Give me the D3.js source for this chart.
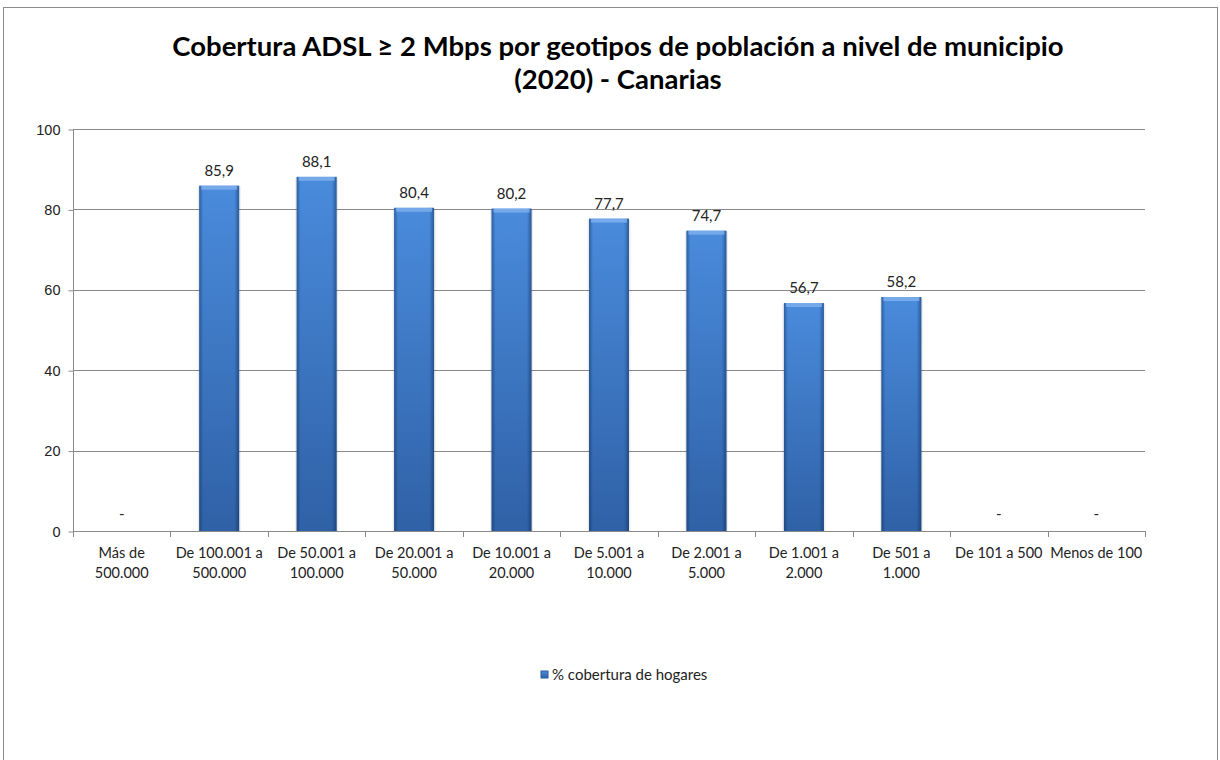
<!DOCTYPE html>
<html>
<head>
<meta charset="utf-8">
<script src="https://cdn.jsdelivr.net/npm/d3@7"></script>
<style>
  body { margin: 0; background: #fff; }
  svg { display: block; font-family: Lato, "Open Sans", sans-serif; }
</style>
</head>
<body>
<svg id="chart" width="1220" height="760"></svg>
<script>
const categories = [
  ['Más de', '500.000'],
  ['De 100.001 a', '500.000'],
  ['De 50.001 a', '100.000'],
  ['De 20.001 a', '50.000'],
  ['De 10.001 a', '20.000'],
  ['De 5.001 a', '10.000'],
  ['De 2.001 a', '5.000'],
  ['De 1.001 a', '2.000'],
  ['De 501 a', '1.000'],
  ['De 101 a 500'],
  ['Menos de 100']
]
const coverage = [null, 85.9, 88.1, 80.4, 80.2, 77.7, 74.7, 56.7, 58.2, null, null]
const yTicks = [0, 20, 40, 60, 80, 100]
const titleLines = ['Cobertura ADSL ≥ 2 Mbps por geotipos de población a nivel de municipio', '(2020) - Canarias']
const seriesName = '% cobertura de hogares'

const svg = d3.select('#chart')
const plotLeft = 73, plotRight = 1145, plotTop = 129, plotBottom = 531

// outer frame
svg.append('rect')
  .attr('x', 3.5).attr('y', 7.5).attr('width', 1214).attr('height', 770)
  .attr('fill', 'none').attr('stroke', '#8c8c8c').attr('stroke-width', 1)

const x = d3.scaleBand().domain(d3.range(categories.length)).range([plotLeft, plotRight])
  .paddingInner(0.59).paddingOuter(0.295)
const step = (plotRight - plotLeft) / categories.length
const y = d3.scaleLinear().domain([0, 100]).range([plotBottom, plotTop])

const defs = svg.append('defs')
const vg = defs.append('linearGradient').attr('id', 'vgrad')
  .attr('x1', 0).attr('y1', 0).attr('x2', 0).attr('y2', 1)
vg.append('stop').attr('offset', '0%').attr('stop-color', '#4a8bdc')
vg.append('stop').attr('offset', '100%').attr('stop-color', '#2f61a6')
const hg = defs.append('linearGradient').attr('id', 'hgrad')
  .attr('x1', 0).attr('y1', 0).attr('x2', 1).attr('y2', 0)
hg.append('stop').attr('offset', '0%').attr('stop-color', '#0b2a55').attr('stop-opacity', 0.45)
hg.append('stop').attr('offset', '10%').attr('stop-color', '#0b2a55').attr('stop-opacity', 0)
hg.append('stop').attr('offset', '88%').attr('stop-color', '#0b2a55').attr('stop-opacity', 0)
hg.append('stop').attr('offset', '100%').attr('stop-color', '#0b2a55').attr('stop-opacity', 0.5)

// gridlines
svg.append('g').selectAll('line').data(yTicks.filter(d => d > 0)).join('line')
  .attr('x1', plotLeft).attr('x2', plotRight)
  .attr('y1', d => Math.round(y(d)) + 0.5).attr('y2', d => Math.round(y(d)) + 0.5)
  .attr('stroke', '#8a8a8a')

// y axis
const yAxis = svg.append('g').attr('transform', `translate(${plotLeft + 0.5},0.5)`)
  .call(d3.axisLeft(y).tickValues(yTicks).tickSize(5).tickPadding(8).tickFormat(d3.format('d')))
yAxis.select('.domain').attr('stroke', '#8a8a8a').attr('d', `M0,${plotTop}V${plotBottom}`)
yAxis.selectAll('.tick line').attr('stroke', '#8a8a8a')
yAxis.selectAll('text').attr('font-size', 14.5).attr('fill', '#222')

// bars, with a faint shadow
const bars = svg.append('g').selectAll('g').data(coverage.map((v, i) => ({ v, i })).filter(d => d.v != null)).join('g')
bars.append('rect')
  .attr('x', d => x(d.i) - 1.5).attr('width', x.bandwidth() + 3)
  .attr('y', d => y(d.v) + 1).attr('height', d => y(0) - y(d.v) - 1)
  .attr('fill', '#000').attr('opacity', 0.08)
bars.append('rect')
  .attr('x', d => x(d.i)).attr('width', x.bandwidth())
  .attr('y', d => y(d.v)).attr('height', d => y(0) - y(d.v))
  .attr('fill', 'url(#vgrad)')
bars.append('rect')
  .attr('x', d => x(d.i)).attr('width', x.bandwidth())
  .attr('y', d => y(d.v)).attr('height', d => y(0) - y(d.v))
  .attr('fill', 'url(#hgrad)')
bars.append('rect')
  .attr('x', d => x(d.i) + 2).attr('width', x.bandwidth() - 4)
  .attr('y', d => y(d.v)).attr('height', 4)
  .attr('fill', '#7fb0ee').attr('opacity', 0.8)

// x axis
svg.append('line').attr('x1', plotLeft).attr('x2', plotRight)
  .attr('y1', plotBottom + 0.5).attr('y2', plotBottom + 0.5).attr('stroke', '#8a8a8a')
svg.append('g').selectAll('line').data(d3.range(categories.length + 1)).join('line')
  .attr('x1', i => Math.round(plotLeft + i * step) + 0.5).attr('x2', i => Math.round(plotLeft + i * step) + 0.5)
  .attr('y1', plotBottom).attr('y2', plotBottom + 6).attr('stroke', '#8a8a8a')

const xl = svg.append('g').selectAll('text').data(categories).join('text')
  .attr('x', (d, i) => x(i) + x.bandwidth() / 2)
  .attr('y', plotBottom + 27)
  .attr('text-anchor', 'middle').attr('font-size', 14.5).attr('fill', '#222')
xl.selectAll('tspan').data(d => d).join('tspan')
  .attr('x', function () { return this.parentNode.getAttribute('x') })
  .attr('dy', (d, j) => j === 0 ? 0 : 20)
  .text(d => d)

// value labels
svg.append('g').selectAll('text').data(coverage).join('text')
  .attr('x', (d, i) => x(i) + x.bandwidth() / 2)
  .attr('y', d => d == null ? y(0) - 12 : y(d) - 10)
  .attr('text-anchor', 'middle').attr('font-size', 15).attr('fill', '#222')
  .text(d => d == null ? '-' : d3.format('.1f')(d).replace('.', ','))

// title
svg.append('g').selectAll('text').data(titleLines).join('text')
  .attr('x', 618).attr('y', (d, i) => 56 + i * 33)
  .attr('text-anchor', 'middle').attr('font-size', 27.5).attr('font-weight', 'bold').attr('fill', '#000')
  .text(d => d)

// legend
const lg = svg.append('g').attr('transform', 'translate(541,671)')
lg.append('rect').attr('width', 7).attr('height', 7).attr('fill', 'url(#vgrad)').attr('stroke', '#2d5f9f')
lg.append('text').attr('x', 11).attr('y', 9).attr('font-size', 15).attr('fill', '#222').text(seriesName)
</script>
</body>
</html>
